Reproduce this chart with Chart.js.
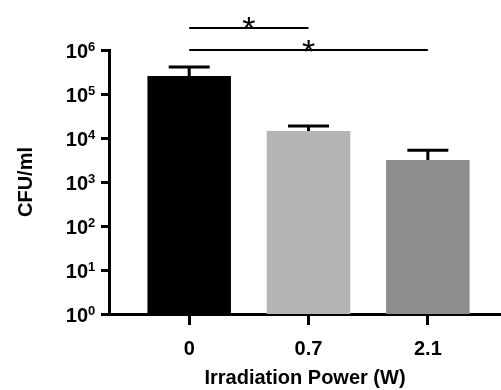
<!DOCTYPE html>
<html>
<head>
<meta charset="utf-8">
<script src="https://cdn.jsdelivr.net/npm/chart.js@4.4.0/dist/chart.umd.min.js"></script>
<style>
  html, body { margin: 0; padding: 0; background: #fff; }
  #wrap { width: 501px; height: 390px; }
</style>
</head>
<body>
<div id="wrap"><canvas id="chart"></canvas></div>
<script>
// values (CFU/ml, log axis)
const categories = ['0', '0.7', '2.1'];
const cfuMean = [256000, 14400, 3160];
const cfuUpper = [410000, 18700, 5300];
const sigPairs = [[0, 1], [0, 2]];
const sigMarks = ['*', '*'];
const barColors = ['#000000', '#b4b4b4', '#8e8e8e'];

const FONT = '"Liberation Sans", Arial, Helvetica, sans-serif';

// upper error bars
const errorBars = {
  id: 'errorBars',
  afterDatasetsDraw(chart) {
    const ctx = chart.ctx;
    const y = chart.scales.y;
    const meta = chart.getDatasetMeta(0);
    ctx.save();
    ctx.strokeStyle = '#000';
    ctx.lineWidth = 3;
    meta.data.forEach((bar, i) => {
      const top = y.getPixelForValue(cfuUpper[i]);
      ctx.beginPath();
      ctx.moveTo(bar.x, bar.y);
      ctx.lineTo(bar.x, top);
      ctx.moveTo(bar.x - 20.5, top);
      ctx.lineTo(bar.x + 20.5, top);
      ctx.stroke();
    });
    ctx.restore();
  }
};

// significance lines with asterisks
const significance = {
  id: 'significance',
  afterDraw(chart) {
    const ctx = chart.ctx;
    const x = chart.scales.x;
    const top = chart.chartArea.top;
    ctx.save();
    ctx.strokeStyle = '#000';
    ctx.fillStyle = '#000';
    ctx.lineWidth = 2;
    ctx.font = '34px ' + FONT;
    ctx.textAlign = 'center';
    ctx.textBaseline = 'alphabetic';
    sigPairs.forEach((p, k) => {
      const ly = top - 22 + k * 22;
      const x1 = x.getPixelForValue(p[0]);
      const x2 = x.getPixelForValue(p[1]);
      ctx.beginPath();
      ctx.moveTo(x1, ly);
      ctx.lineTo(x2, ly);
      ctx.stroke();
      ctx.fillText(sigMarks[k], (x1 + x2) / 2, ly + 12 + k);
    });
    ctx.restore();
  }
};

// "10^n" tick labels with superscripts
const powerLabels = {
  id: 'powerLabels',
  afterDraw(chart) {
    const ctx = chart.ctx;
    const y = chart.scales.y;
    ctx.save();
    ctx.fillStyle = '#000';
    ctx.textBaseline = 'alphabetic';
    y.ticks.forEach(t => {
      const py = y.getPixelForValue(t.value);
      const exp = Math.round(Math.log10(t.value));
      ctx.font = 'bold 20px ' + FONT;
      ctx.textAlign = 'right';
      ctx.fillText('10', 88, py + 8);
      ctx.font = 'bold 13px ' + FONT;
      ctx.textAlign = 'left';
      ctx.fillText(String(exp), 88, py + 1);
    });
    ctx.restore();
  }
};

new Chart(document.getElementById('chart'), {
  type: 'bar',
  data: {
    datasets: [{
      data: cfuMean.map((v, i) => ({ x: i, y: v })),
      backgroundColor: barColors,
      borderWidth: 0,
      categoryPercentage: 0.8,
      barPercentage: 0.875
    }]
  },
  options: {
    responsive: true,
    maintainAspectRatio: false,
    animation: false,
    devicePixelRatio: 1,
    layout: { padding: { top: 50, right: 0, bottom: 0, left: 0 } },
    plugins: { legend: { display: false }, tooltip: { enabled: false } },
    scales: {
      x: {
        type: 'linear',
        offset: false,
        min: -0.672,
        max: 2.613,
        afterBuildTicks: s => { s.ticks = categories.map((c, i) => ({ value: i })); },
        afterFit: s => { s.height = 76; },
        grid: { offset: false, drawOnChartArea: false, tickLength: 11, tickWidth: 3, tickColor: '#000' },
        border: { display: true, color: '#000', width: 3 },
        ticks: {
          callback: v => categories[v],
          color: '#000',
          padding: 12,
          maxRotation: 0,
          font: { family: FONT, size: 20, weight: 'bold' }
        },
        title: {
          display: true,
          text: 'Irradiation Power (W)',
          color: '#000',
          padding: { top: 0, bottom: 0 },
          font: { family: FONT, size: 20, weight: 'bold' }
        }
      },
      y: {
        type: 'logarithmic',
        min: 1,
        max: 1e6,
        afterBuildTicks: s => {
          s.ticks = [1, 10, 100, 1e3, 1e4, 1e5, 1e6].map(v => ({ value: v }));
        },
        afterFit: s => { s.width = 109; },
        grid: { drawOnChartArea: false, tickLength: 8, tickWidth: 3, tickColor: '#000' },
        border: { display: true, color: '#000', width: 3 },
        ticks: { display: false },
        title: {
          display: true,
          text: 'CFU/ml',
          color: '#000',
          padding: { top: 14, bottom: 0 },
          font: { family: FONT, size: 20, weight: 'bold' }
        }
      }
    }
  },
  plugins: [errorBars, significance, powerLabels]
});
</script>
</body>
</html>
